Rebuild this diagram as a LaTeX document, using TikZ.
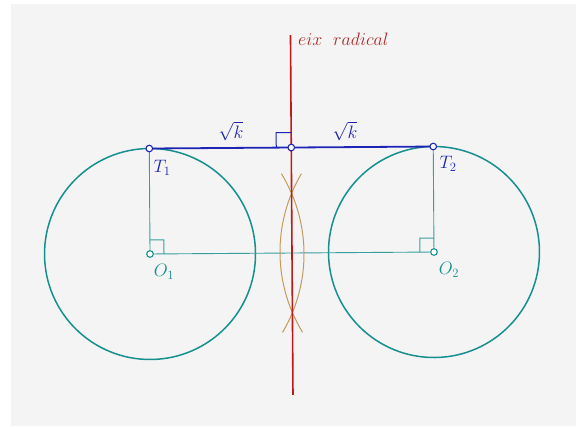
\documentclass[tikz,border=0pt]{standalone}
\usepackage{fix-cm}
\definecolor{bggray}{HTML}{F4F4F4}
\definecolor{cteal}{HTML}{16908F}
\definecolor{ctealthin}{HTML}{3A9E9E}
\definecolor{cblue}{HTML}{1E24B4}
\definecolor{cred}{HTML}{BE1A1A}
\definecolor{credtext}{HTML}{B02A2A}
\definecolor{cbrown}{HTML}{C49A5C}
\tikzset{
  circ/.style={draw=cteal, line width=1.5pt},
  thinteal/.style={draw=ctealthin, line width=0.9pt},
  compass/.style={draw=cbrown, line width=1pt},
  axisline/.style={draw=cred, line width=1.6pt},
  tangent/.style={draw=cblue, line width=1.8pt},
  rightmark/.style={line width=1pt},
  dotblue/.style={draw=cblue, fill=white, line width=1.1pt},
  dotteal/.style={draw=cteal, fill=white, line width=1.1pt},
  lbl/.style={font=\fontsize{18}{21}\selectfont, inner sep=0pt},
}
\begin{document}
\begin{tikzpicture}[x=1pt,y=1pt]
\useasboundingbox (0,0) rectangle (584,-426);
\fill[white] (0,0) rectangle (584,-426);
\fill[bggray] (11,-4) rectangle (576,-426);
\begin{scope}[shift={(292,-253)}, rotate=0.4]
  \coordinate (O1) at (-142,0);
  \coordinate (O2) at (142,0);
  \coordinate (T1) at (-142,105.5);
  \coordinate (T2) at (142,105.5);
  \coordinate (P) at (0,105.5);
  \coordinate (Rtop) at (0,218);
  \coordinate (Rbot) at (0,-142);
  % circles
  \draw[circ] (O1) circle[radius=105.5];
  \draw[circ] (O2) circle[radius=105.5];
  % radii and centre line
  \draw[thinteal] (O1) -- (T1);
  \draw[thinteal] (O2) -- (T2);
  \draw[thinteal] (O1) -- (O2);
  % compass arcs
  \draw[compass] (O2) ++(149:154) arc[start angle=149, end angle=211, radius=154];
  \draw[compass] (O1) ++(-31:154) arc[start angle=-31, end angle=31, radius=154];
  % radical axis
  \draw[axisline] (Rbot) -- (Rtop);
  % common tangent segment
  \draw[tangent] (T1) -- (T2);
  % right-angle marks
  \draw[rightmark, cblue] (-15,105.5) -- (-15,120.5) -- (0,120.5);
  \draw[rightmark, ctealthin] (-142,14) -- (-128,14) -- (-128,0);
  \draw[rightmark, ctealthin] (142,14) -- (128,14) -- (128,0);
  % points
  \filldraw[dotblue] (T1) circle[radius=3.3];
  \filldraw[dotblue] (T2) circle[radius=3.3];
  \filldraw[dotblue] (P) circle[radius=3.3];
  \filldraw[dotteal] (O1) circle[radius=3.3];
  \filldraw[dotteal] (O2) circle[radius=3.3];
\end{scope}
% labels
\node[lbl, text=credtext, anchor=base west] (eix) at (298,-45) {$eix\ \ radical$};
\node[lbl, text=cblue] (k1) at (231,-131) {$\sqrt{k}$};
\node[lbl, text=cblue] (k2) at (345,-131) {$\sqrt{k}$};
\node[lbl, text=cblue] (lT1) at (162,-168) {$T_1$};
\node[lbl, text=cblue] (lT2) at (448,-164) {$T_2$};
\node[lbl, text=cteal] (lO1) at (164,-272) {$O_1$};
\node[lbl, text=cteal] (lO2) at (449,-270) {$O_2$};
\end{tikzpicture}
\end{document}
